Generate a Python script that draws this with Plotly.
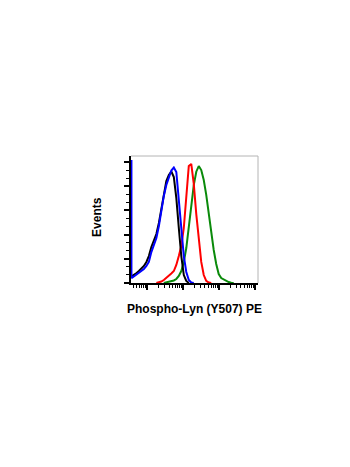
import plotly.graph_objects as go

# Fluorescence channel centres (log-spaced bins)
intensity = [36, 42, 50, 58, 68, 80, 94, 110, 129, 152, 178, 209, 245, 287, 337, 396,
             464, 545, 639, 750, 880, 1033, 1212, 1422, 1668, 1957, 2297, 2695, 3162,
             3711, 4354, 5109, 5995, 7034, 8254, 9685, 11365, 13335, 15647, 18360,
             21544, 25283]

black_counts = [5.4, 6.6, 8.3, 9.9, 12.0, 14.1, 17.4, 22.3, 29.8, 34.7, 40.5, 49.6, 60.4,
                72.8, 84.3, 89.3, 92.2, 87.6, 70.3, 45.5, 22.3, 6.6, 1.7, 0, 0, 0, 0, 0,
                0, 0, 0, 0, 0, 0, 0, 0, 0, 0, 0, 0, 0, 0]

blue_offscale = 101.7
blue_counts = [4.1, 5.4, 7.0, 8.7, 9.5, 11.6, 14.1, 17.4, 25.6, 31.4, 37.2, 47.1, 60.4,
               72.0, 81.0, 87.6, 93.0, 95.5, 91.8, 68.6, 42.2, 22.3, 9.1, 2.5, 0.4, 0, 0,
               0, 0, 0, 0, 0, 0, 0, 0, 0, 0, 0, 0, 0, 0, 0]

red_counts = [0, 0, 0, 0, 0, 0, 0, 0, 0, 0, 0, 0.4, 1.2, 2.5, 4.1, 5.8, 7.9, 9.9, 14.9,
              22.3, 30.6, 45.5, 71.9, 96.7, 98.4, 81.9, 57.0, 35.6, 17.4, 6.6, 1.7, 0.4,
              0, 0, 0, 0, 0, 0, 0, 0, 0, 0]

green_counts = [0, 0, 0, 0, 0, 0, 0, 0, 0, 0, 0, 0, 0, 0, 0.4, 0.8, 1.2, 2.1, 3.3, 5.8,
                9.9, 17.4, 28.9, 45.5, 64.5, 81.0, 92.0, 96.7, 93.4, 85.1, 72.8, 57.0,
                40.5, 27.3, 15.7, 7.4, 4.1, 2.9, 1.7, 0.8, 0.2, 0]

decades = [100, 1000, 10000, 100000]
y_major = [0, 20, 40, 60, 80, 100]


def trim(xs, ys):
    """Drop runs of empty bins, keeping one zero next to the data."""
    nz = [i for i, v in enumerate(ys) if v > 0]
    a = max(nz[0] - 1, 0)
    b = min(nz[-1] + 1, len(ys) - 1)
    return xs[a:b + 1], ys[a:b + 1]


fig = go.Figure()
series = [
    (green_counts, "#0a8a0a", intensity),
    (red_counts, "#ff0000", intensity),
    (black_counts, "#000000", intensity),
]
for counts, color, xs in series:
    tx, ty = trim(xs, counts)
    fig.add_trace(go.Scatter(x=tx, y=ty, mode="lines",
                             line=dict(color=color, width=2), hoverinfo="skip"))

bx, by = trim(intensity, blue_counts)
fig.add_trace(go.Scatter(x=[intensity[0]] + bx, y=[blue_offscale] + by, mode="lines",
                         line=dict(color="#0000ff", width=2), hoverinfo="skip"))

minor_x = [m * d // 10 for d in [100] + decades for m in range(2, 10)]
minor_y = [20 / 3 * k for k in range(16) if k % 3]

fig.update_layout(
    width=350, height=467,
    margin=dict(l=131, r=92, t=156, b=184),
    paper_bgcolor="white", plot_bgcolor="white",
    showlegend=False,
    font=dict(family="Arial, Liberation Sans, sans-serif", color="black"),
    xaxis=dict(type="log", range=[1.544, 5.08], showgrid=False, zeroline=False,
               showline=True, linecolor="black", linewidth=2, layer="below traces",
               ticks="outside", ticklen=5, tickwidth=1.5, tickcolor="black",
               tickmode="array", tickvals=decades, showticklabels=False,
               minor=dict(tickmode="array", tickvals=minor_x, ticks="outside",
                          ticklen=3, tickwidth=1, tickcolor="black", showgrid=False)),
    yaxis=dict(range=[0, 105], showgrid=False, zeroline=False,
               showline=True, linecolor="black", linewidth=2, layer="below traces",
               ticks="outside", ticklen=5, tickwidth=1.5, tickcolor="black",
               tickmode="array", tickvals=y_major, showticklabels=False,
               minor=dict(tickmode="array", tickvals=minor_y, ticks="outside",
                          ticklen=3, tickwidth=1, tickcolor="black", showgrid=False)),
    shapes=[
        dict(type="line", xref="paper", yref="paper", x0=0, x1=1, y0=1, y1=1,
             line=dict(color="#b4b4b4", width=1)),
        dict(type="line", xref="paper", yref="paper", x0=1, x1=1, y0=0, y1=1,
             line=dict(color="#b4b4b4", width=1)),
    ],
    annotations=[
        dict(text="<b>Phospho-Lyn (Y507) PE</b>", xref="paper", yref="paper",
             x=0.5, y=-0.205, xanchor="center", yanchor="middle", showarrow=False,
             font=dict(size=12)),
        dict(text="<b>Events</b>", xref="paper", yref="paper", textangle=-90,
             x=-0.268, y=0.52, xanchor="center", yanchor="middle", showarrow=False,
             font=dict(size=12)),
    ],
)

fig.write_html("out.html")
